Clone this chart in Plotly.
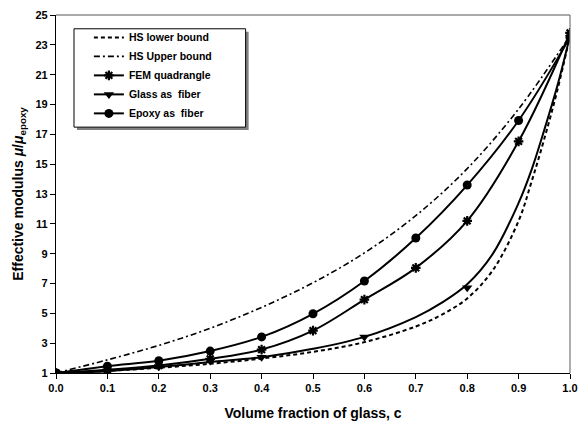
import plotly.graph_objects as go

# ---- data ----
x_bound = [0.0, 0.1, 0.2, 0.3, 0.4, 0.5, 0.6, 0.7, 0.75, 0.8, 0.85, 0.9, 0.925, 0.95, 0.975, 1.0]
hs_lower = [1.0, 1.15, 1.35, 1.62, 1.97, 2.42, 3.07, 4.12, 4.9, 6.0, 7.9, 11.2, 13.8, 16.7, 19.9, 23.6]

x_upper = [0.0, 0.1, 0.2, 0.3, 0.4, 0.5, 0.6, 0.7, 0.8, 0.9, 1.0]
hs_upper = [1.0, 1.88, 2.85, 4.0, 5.4, 7.05, 9.05, 11.55, 14.7, 18.7, 23.6]

x_fem = [0.0, 0.1, 0.2, 0.3, 0.4, 0.5, 0.6, 0.7, 0.8, 0.9, 1.0]
fem = [1.0, 1.22, 1.5, 1.95, 2.57, 3.84, 5.92, 8.05, 11.2, 16.53, 23.8]

x_glass_line = [0.0, 0.1, 0.2, 0.3, 0.4, 0.5, 0.6, 0.7, 0.75, 0.8, 0.85, 0.9, 0.925, 0.95, 0.975, 1.0]
glass_line = [1.0, 1.12, 1.4, 1.73, 2.06, 2.62, 3.42, 4.75, 5.7, 6.95, 9.0, 12.4, 14.6, 17.3, 20.2, 23.6]
x_glass_pts = [0.0, 0.1, 0.2, 0.3, 0.4, 0.6, 0.8, 1.0]
glass_pts = [1.0, 1.12, 1.42, 1.8, 2.05, 3.42, 6.72, 23.5]

x_epoxy = [0.0, 0.1, 0.2, 0.3, 0.4, 0.5, 0.6, 0.7, 0.8, 0.9, 1.0]
epoxy = [1.0, 1.46, 1.82, 2.47, 3.42, 4.97, 7.17, 10.05, 13.6, 17.93, 23.5]

x_ticks = [0.0, 0.1, 0.2, 0.3, 0.4, 0.5, 0.6, 0.7, 0.8, 0.9, 1.0]
x_ticklabels = ["0.0", "0.1", "0.2", "0.3", "0.4", "0.5", "0.6", "0.7", "0.8", "0.9", "1.0"]
y_ticks = [1, 3, 5, 7, 9, 11, 13, 15, 17, 19, 21, 23, 25]

FONT = "Liberation Sans, Arial, sans-serif"
BLACK = "black"
LOWER_DASH = "4px,3px"
UPPER_DASH = "6px,3px,2px,3px"

fig = go.Figure()

# curves
fig.add_trace(go.Scatter(x=x_bound, y=hs_lower, mode="lines", line=dict(color=BLACK, width=2, dash=LOWER_DASH, shape="spline"),
                         showlegend=False, hoverinfo="skip"))
fig.add_trace(go.Scatter(x=x_upper, y=hs_upper, mode="lines", line=dict(color=BLACK, width=1.6, dash=UPPER_DASH, shape="spline"),
                         showlegend=False, hoverinfo="skip"))
fig.add_trace(go.Scatter(x=x_fem, y=fem, mode="lines+markers", line=dict(color=BLACK, width=2, shape="spline"),
                         marker=dict(symbol="asterisk-open", size=8, line=dict(color=BLACK, width=2.2)),
                         showlegend=False))
fig.add_trace(go.Scatter(x=x_glass_line, y=glass_line, mode="lines", line=dict(color=BLACK, width=2, shape="spline"),
                         showlegend=False, hoverinfo="skip"))
fig.add_trace(go.Scatter(x=x_glass_pts, y=glass_pts, mode="markers",
                         marker=dict(symbol="triangle-down", size=9, color=BLACK),
                         showlegend=False))
fig.add_trace(go.Scatter(x=x_epoxy, y=epoxy, mode="lines+markers", line=dict(color=BLACK, width=2, shape="spline"),
                         marker=dict(symbol="circle", size=9, color=BLACK),
                         showlegend=False))

# legend entries
fig.add_trace(go.Scatter(x=[None], y=[None], mode="lines", name="HS lower bound",
                         line=dict(color=BLACK, width=2, dash=LOWER_DASH)))
fig.add_trace(go.Scatter(x=[None], y=[None], mode="lines", name="HS Upper bound",
                         line=dict(color=BLACK, width=1.6, dash=UPPER_DASH)))
fig.add_trace(go.Scatter(x=[None], y=[None], mode="lines+markers", name="FEM quadrangle",
                         line=dict(color=BLACK, width=2),
                         marker=dict(symbol="asterisk-open", size=8, line=dict(color=BLACK, width=2.2))))
fig.add_trace(go.Scatter(x=[None], y=[None], mode="lines+markers", name="Glass as  fiber",
                         line=dict(color=BLACK, width=2),
                         marker=dict(symbol="triangle-down", size=9, color=BLACK)))
fig.add_trace(go.Scatter(x=[None], y=[None], mode="lines+markers", name="Epoxy as  fiber",
                         line=dict(color=BLACK, width=2),
                         marker=dict(symbol="circle", size=9, color=BLACK)))

# legend shadow + box, and top/right frame
fig.add_shape(type="rect", xref="paper", yref="paper", x0=0.0408, x1=0.3748, y0=0.6786, y1=0.9533,
              fillcolor="#808080", line=dict(width=0), layer="above")
fig.add_shape(type="rect", xref="paper", yref="paper", x0=0.035, x1=0.3689, y0=0.6868, y1=0.9615,
              fillcolor="white", line=dict(color=BLACK, width=1), layer="above")
fig.add_shape(type="line", xref="paper", yref="paper", x0=0, x1=1, y0=1, y1=1, line=dict(color="#555", width=1))
fig.add_shape(type="line", xref="paper", yref="paper", x0=1, x1=1, y0=0, y1=1, line=dict(color="#777", width=1.2))

fig.update_layout(
    width=587, height=429,
    margin=dict(l=56, r=16, t=9, b=56),
    paper_bgcolor="white", plot_bgcolor="white",
    font=dict(family=FONT, color=BLACK),
    legend=dict(x=0.064, y=0.978, xanchor="left", yanchor="top",
                bgcolor="rgba(0,0,0,0)", borderwidth=0,
                font=dict(family=FONT, size=10.5, color=BLACK, weight="bold"),
                tracegroupgap=0, itemwidth=30),
    xaxis=dict(range=[0, 1], tickvals=x_ticks, ticktext=x_ticklabels,
               showline=True, linecolor=BLACK, linewidth=1.2, ticks="outside", ticklen=5, tickcolor=BLACK,
               showgrid=False, zeroline=False,
               tickfont=dict(family=FONT, size=11, weight="bold"),
               title=dict(text="Volume fraction of glass, c", font=dict(family=FONT, size=14, weight="bold"), standoff=14)),
    yaxis=dict(range=[1, 25], tickvals=y_ticks,
               showline=True, linecolor=BLACK, linewidth=1.2, ticks="outside", ticklen=5, tickcolor=BLACK,
               showgrid=False, zeroline=False,
               tickfont=dict(family=FONT, size=11, weight="bold"),
               title=dict(text="Effective modulus <i>μ</i>/<i>μ</i><sub>epoxy</sub>", font=dict(family=FONT, size=14, weight="bold"), standoff=8)),
)

fig.write_html("out.html", config={"displayModeBar": False},
               post_script="document.body.style.margin='0';document.body.style.padding='0';")
